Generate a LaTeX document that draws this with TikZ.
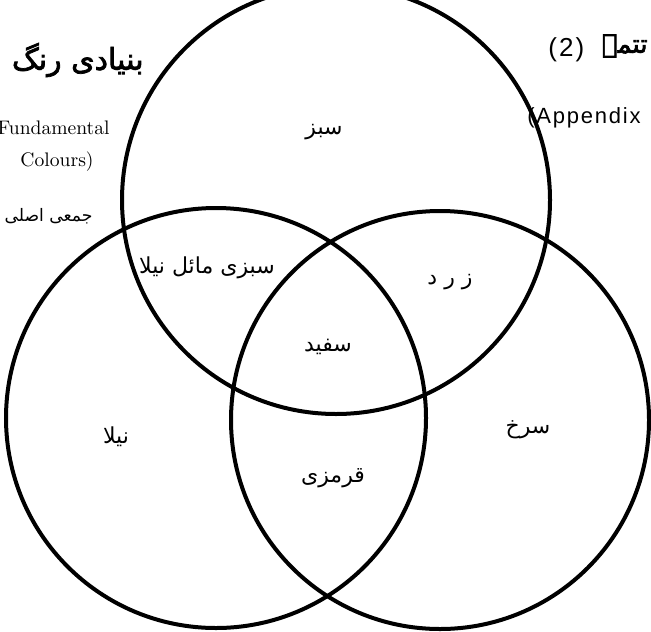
\documentclass[tikz,border=0pt]{standalone}
\usepackage{fontspec}
\usepackage{tikz}
\usetikzlibrary{positioning}
\TeXXeTstate=1
\newfontfamily\urdufont[Script=Arabic]{DejaVu Sans}
\newfontfamily\urduheavy[Script=Arabic,FakeBold=2.5]{DejaVu Sans}
\newfontfamily\appfont[LetterSpace=8]{Liberation Sans}
\tikzset{
  ring/.style={draw,line width=2pt},
  urdu/.style={font=\urdufont\fontsize{11}{13}\selectfont,inner sep=1pt},
  note/.style={font=\fontsize{9.8}{12}\selectfont,inner sep=0pt}
}
\begin{document}
\begin{tikzpicture}[x=0.5pt,y=-0.5pt]
  \useasboundingbox (0,0) rectangle (651,631);
  \clip (0,0) rectangle (651,631);
  % the three primary colour circles
  \coordinate (green) at (336,200);
  \coordinate (blue) at (216,418);
  \coordinate (red) at (440,420);
  \draw[ring] (green) circle[radius=214];
  \draw[ring] (blue) circle[radius=210];
  \draw[ring] (red) circle[radius=209];
  % region labels
  \node[urdu] (sabz) at (324,132) {\beginR سبز\endR};
  \node[urdu] (sabzneela) at (207,268) {\beginR سبزی مائل نیلا\endR};
  \node[urdu] (zard) at (450,282) {\beginR ز ر د\endR};
  \node[urdu] (safaid) at (328,347) {\beginR سفید\endR};
  \node[urdu] (neela) at (116,437) {\beginR نیلا\endR};
  \node[urdu] (qirmizi) at (333,478) {\beginR قرمزی\endR};
  \node[urdu] (surkh) at (528,430) {\beginR سرخ\endR};
  % headings in the corners
  \node[urdu,font=\urduheavy\fontsize{15}{18}\selectfont,anchor=east] (title) at (146,60) {\beginR بنیادی رنگ\endR};
  \node[note,anchor=east] (fund) at (110,128) {Fundamental};
  \node[note,anchor=east] (colours) at (94,162) {Colours)};
  \node[urdu,font=\urdufont\fontsize{8.6}{10}\selectfont,anchor=east] (jami) at (95,216) {\beginR جمعی اصلی\endR};
  \node[font=\appfont\fontsize{13}{15}\selectfont,anchor=west,inner sep=0pt] (two) at (548,50) {(2)};
  \node[urdu,font=\urduheavy\fontsize{13}{15}\selectfont,anchor=east] (tatimma) at (650,46) {\beginR تتمہ\endR};
  \node[font=\appfont\fontsize{11}{13}\selectfont,anchor=west,inner sep=0pt] (append) at (527,118) {(Appendix};
\end{tikzpicture}
\end{document}
